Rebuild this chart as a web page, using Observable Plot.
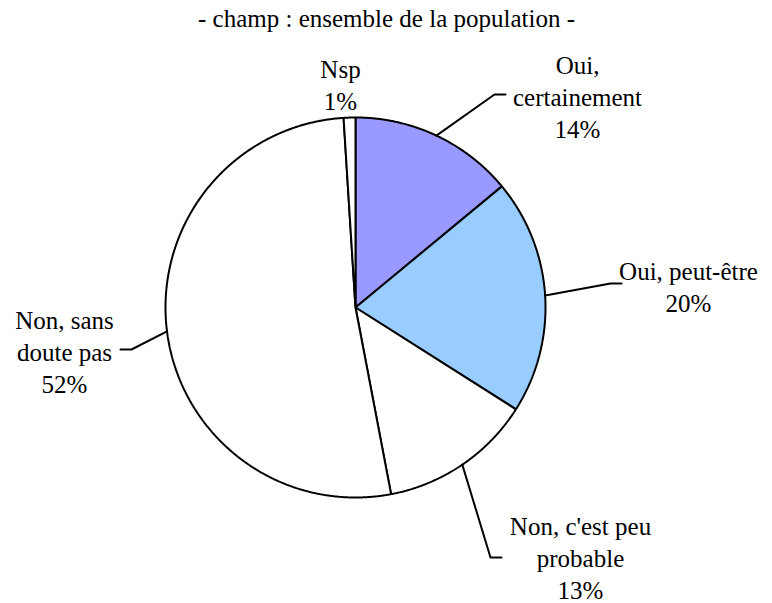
<!DOCTYPE html>
<html><head><meta charset="utf-8">
<script src="https://cdn.jsdelivr.net/npm/d3@7"></script>
<script src="https://cdn.jsdelivr.net/npm/@observablehq/plot@0.6"></script>
<style>
body{margin:0;background:#fff}
#chart svg, #chart svg text, #chart svg g {font-family: "Liberation Serif", "Times New Roman", Times, "DejaVu Serif", serif !important;}
</style>
</head><body><div id="chart"></div>
<script>
// ---- data ----
const title = "- champ : ensemble de la population -";
const categories = ["Oui, certainement", "Oui, peut-être", "Non, c'est peu probable", "Non, sans doute pas", "Nsp"];
const labelLines = ["Oui,\ncertainement", "Oui, peut-être", "Non, c'est peu\nprobable", "Non, sans\ndoute pas", "Nsp"];
const values = [14, 20, 13, 52, 1];
const colors = ["#9999FF", "#99CCFF", "#FFFFFF", "#FFFFFF", "#FFFFFF"];

// ---- layout ----
const W = 772, H = 603, cx = 355, cy = 307, R = 190;
const labelPos = [[577, 95], [688, 285], [580, 556], [64, 350], [340, 83]];
const leaderElbow = [[494, 94, 505], [610, 283, 621], [490, 557, 501], [131, 349, 120], null];
const FS = 25;
const FONT = "Liberation Serif, Times New Roman, serif";

const rows = categories.map((c, i) => ({cat: c, value: values[i], color: colors[i], label: labelLines[i]}));
const arcs = d3.pie().sort(null).value(d => d.value).startAngle(0).endAngle(2 * Math.PI)(rows);
const pt = (a, r) => [cx + r * Math.sin(a), cy - r * Math.cos(a)];

const slicePts = [];
arcs.forEach(a => {
  slicePts.push({cat: a.data.cat, color: a.data.color, x: cx, y: cy});
  const n = Math.max(2, Math.ceil((a.endAngle - a.startAngle) / 0.005));
  for (let k = 0; k <= n; k++) {
    const t = a.startAngle + (a.endAngle - a.startAngle) * k / n;
    const [x, y] = pt(t, R);
    slicePts.push({cat: a.data.cat, color: a.data.color, x, y});
  }
  slicePts.push({cat: a.data.cat, color: a.data.color, x: cx, y: cy});
});

const leaderPts = [];
arcs.forEach((a, i) => {
  const e = leaderElbow[i];
  if (!e) return;
  const mid = (a.startAngle + a.endAngle) / 2;
  const [x0, y0] = pt(mid, R);
  leaderPts.push({cat: a.data.cat, x: x0, y: y0});
  leaderPts.push({cat: a.data.cat, x: e[0], y: e[1]});
  leaderPts.push({cat: a.data.cat, x: e[2], y: e[1]});
});

const labels = arcs.map((a, i) => ({
  x: labelPos[i][0], y: labelPos[i][1],
  text: a.data.label + "\n" + a.data.value + "%"
}));

const chart = Plot.plot({
  width: W, height: H, margin: 0,
  x: {domain: [0, W], range: [0, W], axis: null},
  y: {domain: [0, H], range: [0, H], axis: null},
  color: {type: "identity"},
  style: {background: "#fff"},
  marks: [
    Plot.line(slicePts, {x: "x", y: "y", z: "cat", fill: "color", stroke: "black", strokeWidth: 2, curve: "linear", strokeLinejoin: "miter"}),
    Plot.line(leaderPts, {x: "x", y: "y", z: "cat", stroke: "black", strokeWidth: 2, curve: "linear"}),
    Plot.text(labels, {x: "x", y: "y", text: "text", fontSize: FS, fontFamily: FONT, lineHeight: 1.29, textAnchor: "middle", fill: "black"}),
    Plot.text([title], {x: () => 386, y: () => 18, text: d => d, fontSize: FS, fontFamily: FONT, textAnchor: "middle", fill: "black"})
  ]
});
document.getElementById("chart").appendChild(chart);
</script>
</body></html>
